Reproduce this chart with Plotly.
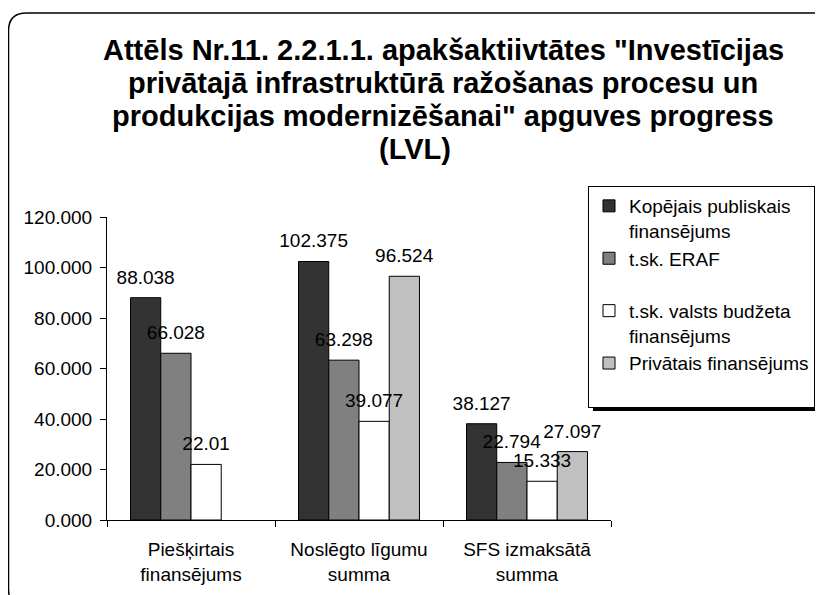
import plotly.graph_objects as go

W, H = 823, 595
OX, OY = 8, 8  # page body margin offset of the figure

categories = ["Piešķirtais<br>finansējums", "Noslēgto līgumu<br>summa", "SFS izmaksātā<br>summa"]
series_names = [
    "Kopējais publiskais<br>finansējums",
    "t.sk. ERAF<br> ",
    "t.sk. valsts budžeta<br>finansējums",
    "Privātais finansējums<br> ",
]
kopejais = [88.038, 102.375, 38.127]
eraf = [66.028, 63.298, 22.794]
valsts = [22.01, 39.077, 15.333]
privatais = [None, 96.524, 27.097]
colors = ["#333333", "#808080", "#FFFFFF", "#C0C0C0"]

title_lines = [
    "Attēls Nr.11. 2.2.1.1. apakšaktiivtātes \"Investīcijas",
    "privātajā infrastruktūrā ražošanas procesu un",
    "produkcijas modernizēšanai\" apguves progress",
    "(LVL)",
]
title_centers_x = [443, 443, 443, 415]

FONT = "Arial, Liberation Sans, sans-serif"


def px(x):
    return (x - OX) / W


def py(y):
    return 1 - (y - OY) / H


fig = go.Figure()
all_vals = [kopejais, eraf, valsts, privatais]
for i, (name, vals, col) in enumerate(zip(series_names, all_vals, colors)):
    fig.add_trace(go.Bar(
        x=categories, y=vals, name=name, offsetgroup=str(i),
        marker=dict(color=col, line=dict(color="black", width=1)),
    ))
# data labels, drawn above every bar
for i, vals in enumerate(all_vals):
    fig.add_trace(go.Bar(
        x=categories, y=vals, offsetgroup=str(i), yaxis="y2", showlegend=False,
        marker=dict(color="rgba(0,0,0,0)", line=dict(width=0)),
        text=[None if v is None else f"{v:g}" for v in vals],
        textposition="outside", constraintext="none", cliponaxis=False,
        textfont=dict(family=FONT, size=19, color="black"), hoverinfo="skip",
    ))

annotations = []
for i, (line, cx) in enumerate(zip(title_lines, title_centers_x)):
    annotations.append(dict(
        text=f"<b>{line}</b>", x=px(cx), y=py(50 + 33 * i), xref="paper", yref="paper",
        xanchor="center", yanchor="middle", showarrow=False,
        font=dict(family=FONT, size=29, color="black"),
    ))


def rounded_rect(x0, y0, x1, y1, r):
    return (f"M {px(x0)},{py(y0 + r)} L {px(x0)},{py(y1 - r)} "
            f"Q {px(x0)},{py(y1)} {px(x0 + r)},{py(y1)} L {px(x1 - r)},{py(y1)} "
            f"Q {px(x1)},{py(y1)} {px(x1)},{py(y1 - r)} L {px(x1)},{py(y0 + r)} "
            f"Q {px(x1)},{py(y0)} {px(x1 - r)},{py(y0)} L {px(x0 + r)},{py(y0)} "
            f"Q {px(x0)},{py(y0)} {px(x0)},{py(y0 + r)} Z")


legend_box = (588, 186, 814, 406)
shadow = 5
shapes = [
    dict(type="path", xref="paper", yref="paper", path=rounded_rect(8.5, 13, 832, 607, 18),
         line=dict(color="black", width=1.5), fillcolor="rgba(0,0,0,0)", layer="below"),
    dict(type="rect", xref="paper", yref="paper",
         x0=px(legend_box[0] + shadow), x1=px(legend_box[2] + shadow),
         y0=py(legend_box[3] + shadow), y1=py(legend_box[1] + shadow),
         fillcolor="black", line=dict(width=0), layer="above"),
]

fig.update_layout(
    width=W, height=H,
    margin=dict(l=0, r=0, t=0, b=0, autoexpand=False),
    paper_bgcolor="white", plot_bgcolor="white",
    font=dict(family=FONT, size=19, color="black"),
    barmode="group", bargap=0.28, bargroupgap=0,
    showlegend=True,
    legend=dict(
        x=px(legend_box[0]), y=py(legend_box[1]), xanchor="left", yanchor="top",
        bgcolor="white", bordercolor="black", borderwidth=1,
        font=dict(family=FONT, size=19, color="black"), valign="top",
        tracegroupgap=8, traceorder="normal",
    ),
    xaxis=dict(
        domain=[px(107), px(611)], showline=True, linecolor="black", linewidth=1,
        ticks="outside", ticklen=6, tickcolor="black", tickson="boundaries",
        showgrid=False, tickfont=dict(family=FONT, size=19), ticklabelstandoff=12,
        automargin=False,
    ),
    yaxis=dict(
        domain=[py(520), py(217)], range=[0, 120], dtick=20, tickformat=".3f",
        showline=True, linecolor="black", linewidth=1, ticks="outside", ticklen=6,
        tickcolor="black", showgrid=False, zeroline=False,
        tickfont=dict(family=FONT, size=19), ticklabelstandoff=4, automargin=False,
    ),
    yaxis2=dict(overlaying="y", range=[-2.8, 117.2], visible=False, automargin=False),
    annotations=annotations,
    shapes=shapes,
)

fig.write_html("out.html")
